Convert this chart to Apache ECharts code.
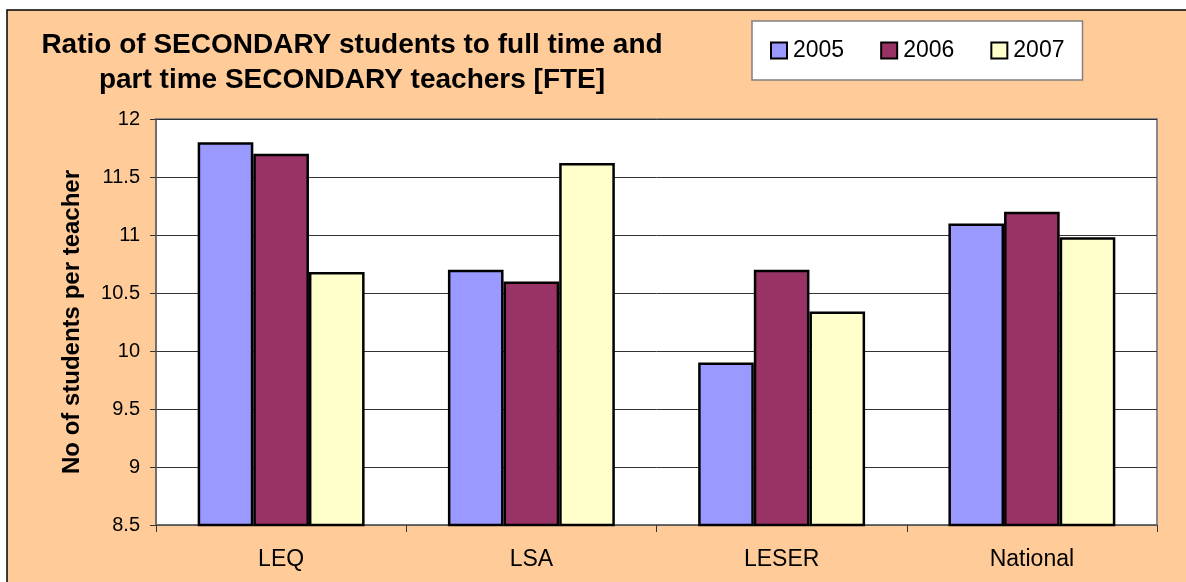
<!DOCTYPE html>
<html>
<head>
<meta charset="utf-8">
<script src="https://cdn.jsdelivr.net/npm/echarts@6/dist/echarts.min.js"></script>
<style>
  html, body { margin: 0; padding: 0; background: #ffffff; }
  #chart { width: 1186px; height: 582px; }
</style>
</head>
<body>
<div id="chart"></div>
<script>
// Student-to-teacher ratios (secondary level), by area and year
const categories = ['LEQ', 'LSA', 'LESER', 'National'];
const years = ['2005', '2006', '2007'];
const values2005 = [11.8, 10.7, 9.9, 11.1];
const values2006 = [11.7, 10.6, 10.7, 11.2];
const values2007 = [10.68, 11.62, 10.34, 10.98];
const yTicks = { min: 8.5, max: 12, step: 0.5 };

const seriesColors = ['#9999FF', '#993366', '#FFFFCC'];
const seriesValues = [values2005, values2006, values2007];
const FONT = 'Liberation Sans, Arial, sans-serif';

const chart = echarts.init(document.getElementById('chart'));

chart.setOption({
  backgroundColor: '#ffffff',
  animation: false,
  graphic: {
    z: -100,
    elements: [{
      type: 'rect',
      z: -100,
      silent: true,
      shape: { x: 7, y: 10, width: 1200, height: 600 },
      style: { fill: '#FFCC99', stroke: '#000000', lineWidth: 1.5 }
    }]
  },
  title: {
    text: 'Ratio of SECONDARY students to full time and\npart time SECONDARY teachers [FTE]',
    left: 347,
    top: 23,
    textAlign: 'center',
    textStyle: {
      fontFamily: FONT,
      fontSize: 28,
      fontWeight: 'bold',
      color: '#000000',
      lineHeight: 35
    }
  },
  legend: {
    data: years,
    left: 752,
    top: 21,
    padding: [18, 18],
    itemGap: 36,
    itemWidth: 16,
    itemHeight: 16,
    icon: 'rect',
    backgroundColor: '#ffffff',
    borderColor: '#808080',
    borderWidth: 1.5,
    itemStyle: { borderColor: '#000000', borderWidth: 2 },
    textStyle: { fontFamily: FONT, fontSize: 23, color: '#000000', padding: [0, 0, 0, 1] }
  },
  grid: {
    left: 156,
    top: 119,
    right: 29,
    bottom: 57,
    show: true,
    backgroundColor: '#ffffff',
    borderColor: '#8a8a8a',
    borderWidth: 2,
    containLabel: false
  },
  xAxis: {
    type: 'category',
    data: categories,
    axisLine: { lineStyle: { color: '#666666', width: 1.5 } },
    axisTick: { show: true, length: 7, lineStyle: { color: '#333333' } },
    axisLabel: { fontFamily: FONT, fontSize: 23, color: '#000000', margin: 23 }
  },
  yAxis: {
    type: 'value',
    min: yTicks.min,
    max: yTicks.max,
    interval: yTicks.step,
    name: 'No of students per teacher',
    nameLocation: 'middle',
    nameGap: 72,
    nameTextStyle: { fontFamily: FONT, fontSize: 24, fontWeight: 'bold', color: '#000000' },
    axisLine: { show: true, lineStyle: { color: '#666666', width: 1.5 } },
    axisTick: { show: true, length: 6, lineStyle: { color: '#333333' } },
    axisLabel: { fontFamily: FONT, fontSize: 20, color: '#000000', margin: 16 },
    splitLine: { show: true, lineStyle: { color: '#333333', width: 1 } }
  },
  series: years.map((y, i) => ({
    name: y,
    type: 'bar',
    data: seriesValues[i],
    barGap: '0%',
    barCategoryGap: '33.3%',
    itemStyle: {
      color: seriesColors[i],
      borderColor: '#000000',
      borderWidth: 2.5
    }
  }))
});
</script>
</body>
</html>
